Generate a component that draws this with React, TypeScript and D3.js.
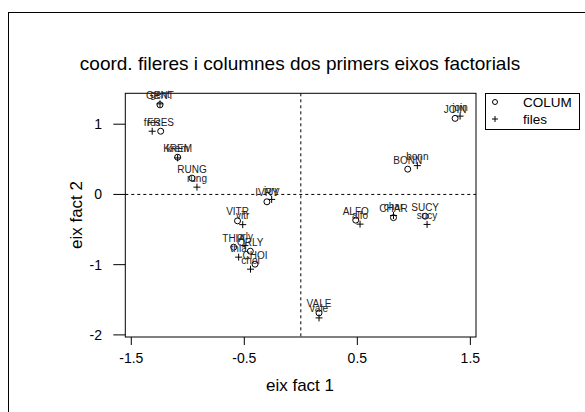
import React from "react";
import * as d3 from "d3";

// Column profiles (uppercase) and row profiles (lowercase) on the first two factorial axes
const colLabels = ["GENT", "FRES", "KREM", "RUNG", "IVRY", "VITR", "THIA", "ORLY", "CHOI", "VALE", "ALFO", "CHAR", "SUCY", "BONN", "JOIN"];
const colX = [-1.246, -1.24, -1.09, -0.963, -0.3, -0.56, -0.594, -0.447, -0.405, 0.161, 0.486, 0.82, 1.1, 0.946, 1.365];
const colY = [1.276, 0.9, 0.53, 0.232, -0.105, -0.376, -0.751, -0.808, -0.993, -1.687, -0.366, -0.33, -0.31, 0.36, 1.083];

const rowLabels = ["gent", "fres", "krem", "rung", "ivry", "vitr", "thia", "orly", "choi", "vale", "alfo", "char", "sucy", "bonn", "join"];
const rowX = [-1.246, -1.315, -1.09, -0.919, -0.258, -0.514, -0.55, -0.494, -0.445, 0.161, 0.524, 0.82, 1.117, 1.031, 1.409];
const rowY = [1.29, 0.9, 0.52, 0.104, -0.071, -0.43, -0.893, -0.729, -1.064, -1.758, -0.423, -0.3, -0.427, 0.41, 1.115];

const xTicks = [-1.5, -0.5, 0.5, 1.5];
const yTicks = [-2, -1, 0, 1];

const legendItems = ["COLUM", "files"];

const W = 585;
const H = 412;
const FONT = "'Liberation Sans', Arial, Helvetica, sans-serif";

export default function App() {
  const x = d3.scaleLinear().domain([-1.553, 1.55]).range([125.3, 476]);
  const y = d3.scaleLinear().domain([-2.03, 1.44]).range([337, 93.3]);
  const [x0, x1] = x.range();
  const [yb, yt] = y.range();

  const plus = (cx: number, cy: number, r = 3.5) =>
    `M${cx - r},${cy}H${cx + r}M${cx},${cy - r}V${cy + r}`;

  return (
    <div style={{ position: "fixed", left: 0, top: 0 }}>
      <svg width={W} height={H} style={{ display: "block", background: "#fff" }} fontFamily={FONT}>
        {/* outer frame */}
        <rect x={8.5} y={12.5} width={W + 20} height={H + 20} fill="none" stroke="#000" strokeWidth={1} />

        {/* title */}
        <text x={300} y={70} textAnchor="middle" fontSize={19} fill="#000">
          coord. fileres i columnes dos primers eixos factorials
        </text>

        {/* reference lines at the origin */}
        <line x1={x0} x2={x1} y1={y(0)} y2={y(0)} stroke="#000" strokeDasharray="3,3" strokeWidth={1} />
        <line x1={x(0)} x2={x(0)} y1={yt} y2={yb} stroke="#000" strokeDasharray="3,3" strokeWidth={1} />

        {/* plot box */}
        <rect x={x0} y={yt} width={x1 - x0} height={yb - yt} fill="none" stroke="#000" strokeWidth={1} />

        {/* x axis */}
        {xTicks.map((t) => (
          <g key={"xt" + t}>
            <line x1={x(t)} x2={x(t)} y1={yb} y2={yb + 8} stroke="#000" />
            <text x={x(t)} y={363} textAnchor="middle" fontSize={14} fill="#000">
              {t}
            </text>
          </g>
        ))}
        <text x={300} y={391} textAnchor="middle" fontSize={17} fill="#000">
          eix fact 1
        </text>

        {/* y axis */}
        {yTicks.map((t) => (
          <g key={"yt" + t}>
            <line x1={x0 - 12} x2={x0} y1={y(t)} y2={y(t)} stroke="#000" />
            <text x={102} y={y(t) + 5} textAnchor="end" fontSize={14} fill="#000">
              {t}
            </text>
          </g>
        ))}
        <text
          transform={`translate(82,215) rotate(-90)`}
          textAnchor="middle"
          fontSize={17}
          fill="#000"
        >
          eix fact 2
        </text>

        {/* column points */}
        {colLabels.map((lab, i) => (
          <g key={"c" + lab}>
            <circle cx={x(colX[i])} cy={y(colY[i])} r={3} fill="none" stroke="#000" strokeWidth={1} />
            <text x={x(colX[i])} y={y(colY[i]) - 5.5} textAnchor="middle" fontSize={10} fill="#222">
              {lab}
            </text>
          </g>
        ))}

        {/* row points */}
        {rowLabels.map((lab, i) => (
          <g key={"r" + lab}>
            <path d={plus(x(rowX[i]), y(rowY[i]))} stroke="#000" strokeWidth={1} fill="none" />
            <text x={x(rowX[i])} y={y(rowY[i]) - 5.5} textAnchor="middle" fontSize={10} fill="#222">
              {lab}
            </text>
          </g>
        ))}

        {/* legend */}
        <rect x={485.5} y={93.5} width={94} height={36} fill="#fff" stroke="#000" strokeWidth={1} />
        <circle cx={495} cy={102} r={2.5} fill="none" stroke="#000" />
        <path d={plus(495, 119, 3)} stroke="#000" fill="none" />
        {legendItems.map((lab, i) => (
          <text key={lab} x={523} y={107 + i * 17} fontSize={13.5} fill="#000">
            {lab}
          </text>
        ))}
      </svg>
    </div>
  );
}
